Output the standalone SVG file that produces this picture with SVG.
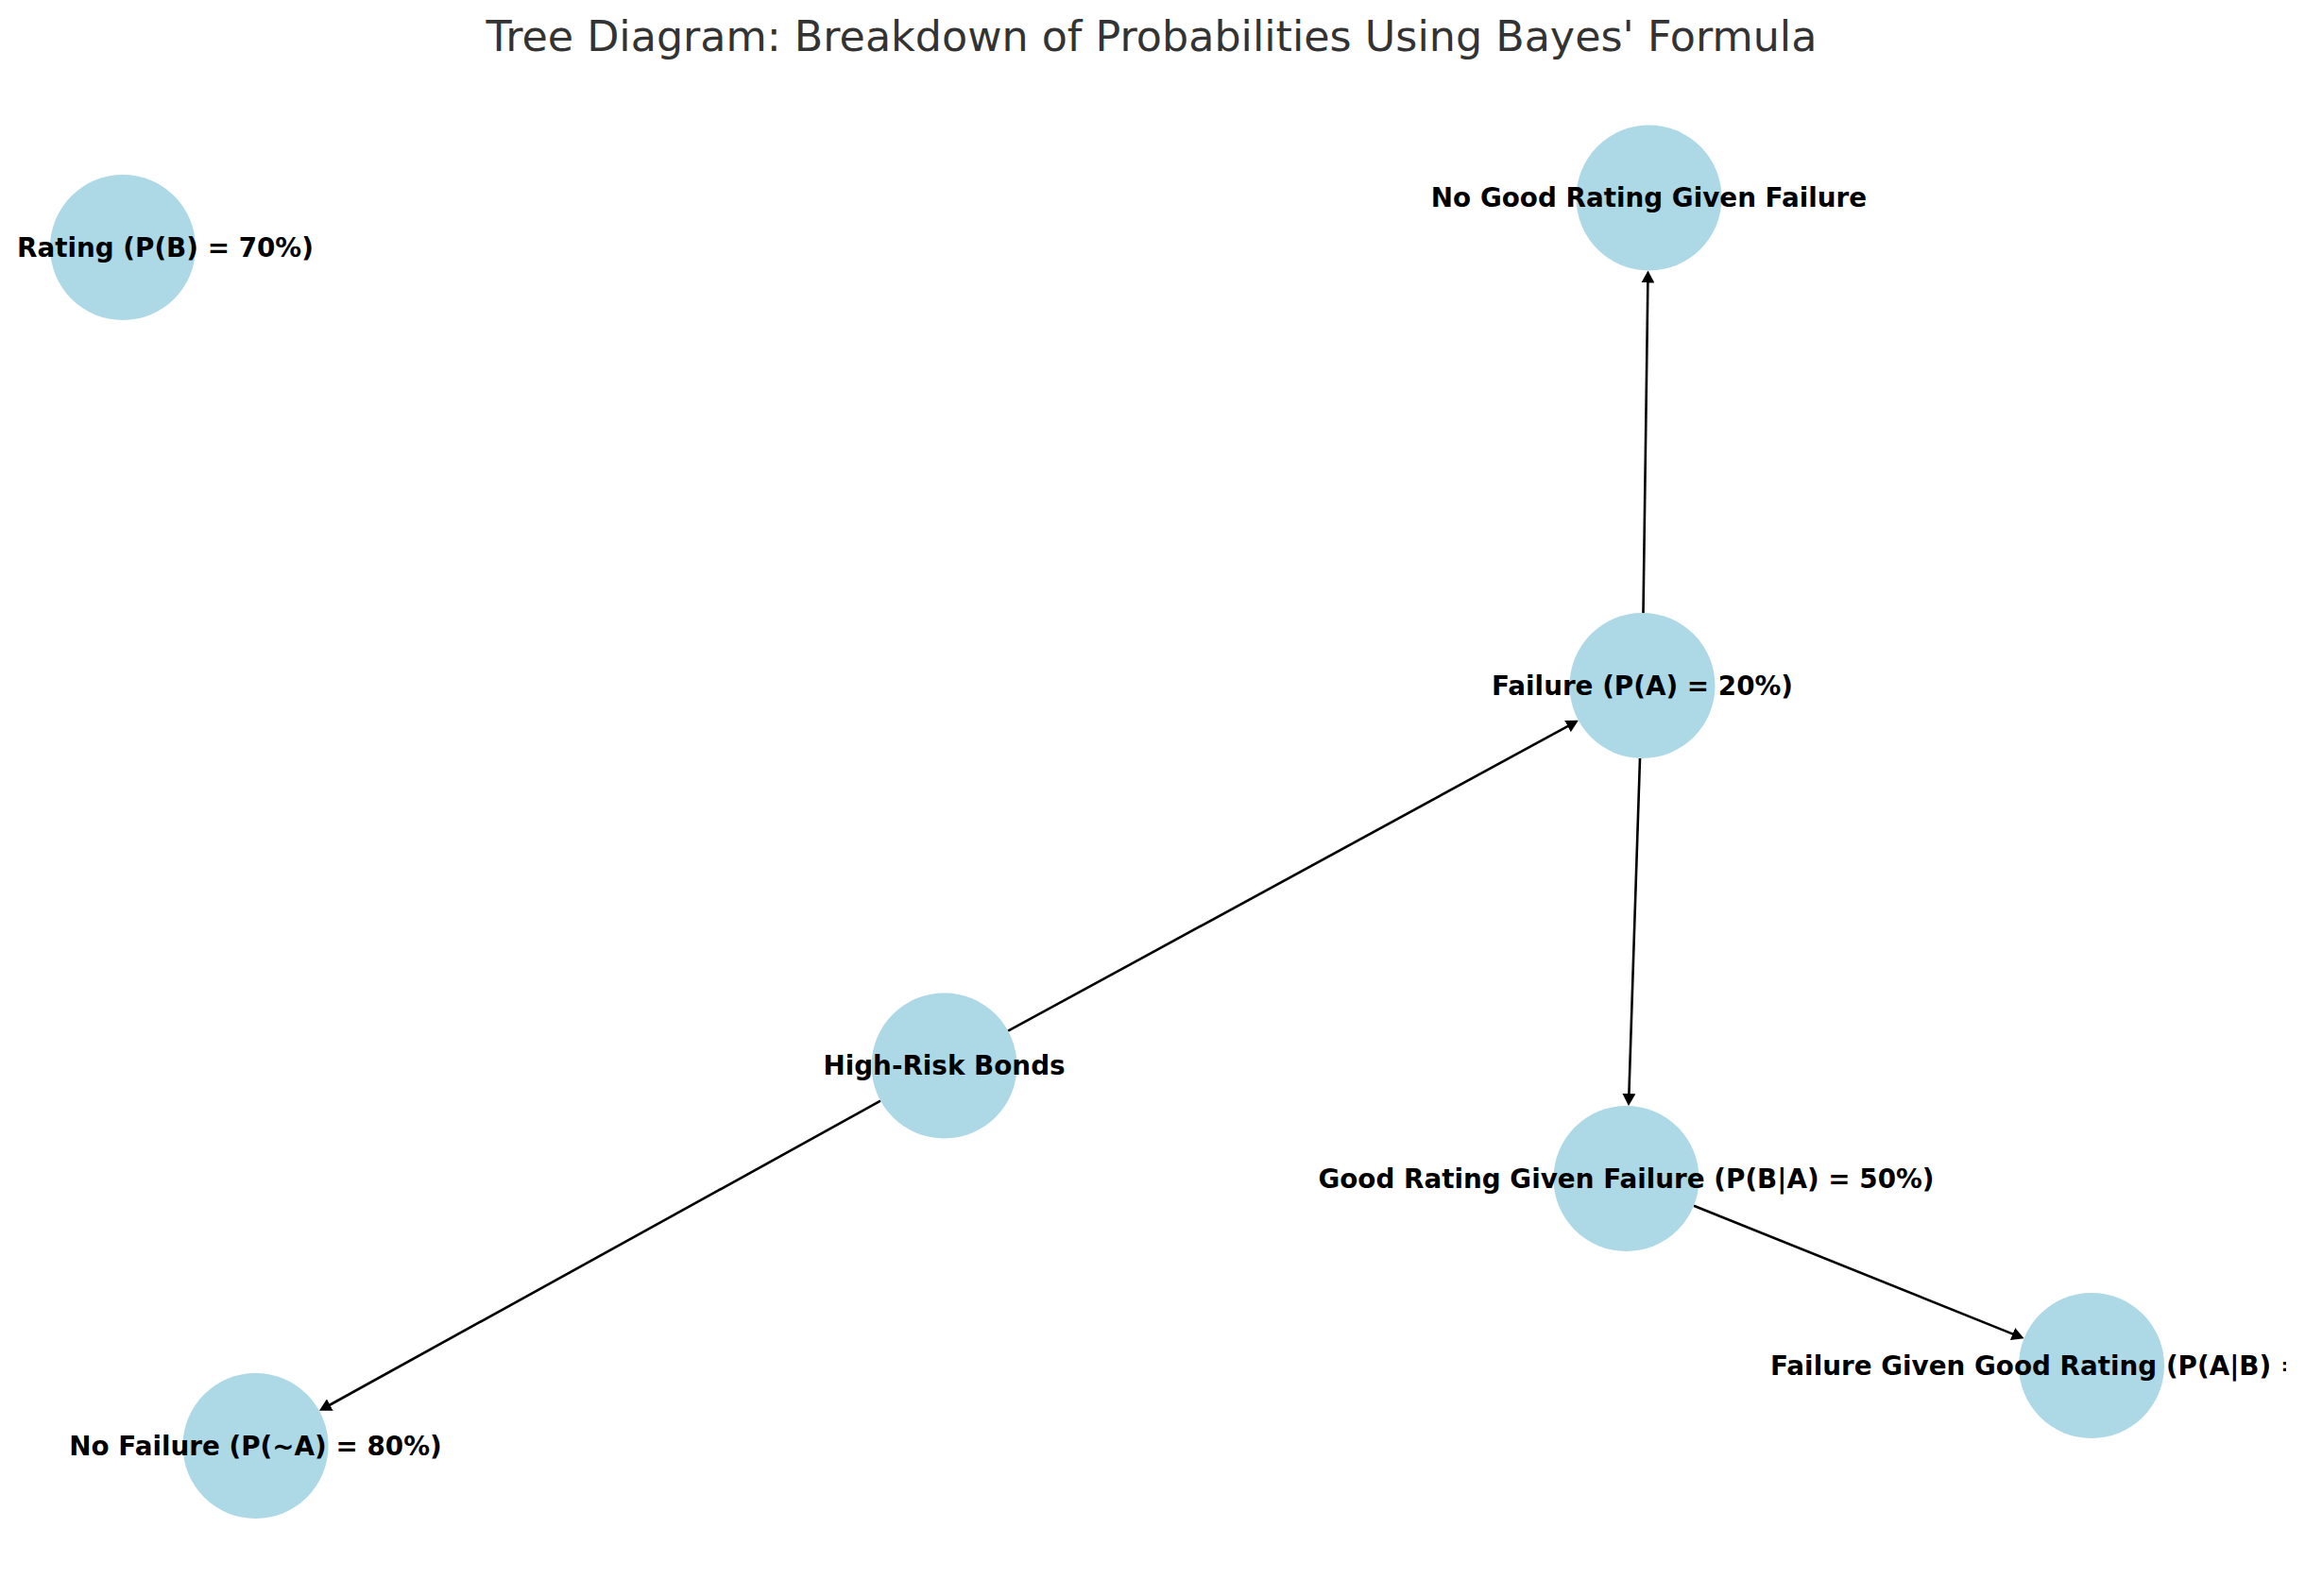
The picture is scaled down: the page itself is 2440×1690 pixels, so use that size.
<svg xmlns="http://www.w3.org/2000/svg" width="2440" height="1690" viewBox="0 0 2440 1690">
<style>
.node circle{fill:#ADD8E6}
.node text{font-family:"DejaVu Sans",sans-serif;font-weight:bold;font-size:27.8px;fill:#000;text-anchor:middle}
.edges line{stroke:#000;stroke-width:2.6;fill:none}
.title{font-family:"DejaVu Sans",sans-serif;font-size:44.4px;fill:#333333;text-anchor:middle}
</style>
<defs>
<marker id="arr" markerUnits="userSpaceOnUse" markerWidth="14" markerHeight="14" refX="3" refY="7" orient="auto">
<path d="M0,0 L13,7 L0,14 z" fill="#000"/>
</marker>
<clipPath id="edgeclip"><rect x="0" y="0" width="2420" height="1690"/></clipPath>
</defs>
<rect width="2440" height="1690" fill="#fff"/>
<text class="title" x="1219" y="54">Tree Diagram: Breakdown of Probabilities Using Bayes' Formula</text>
<g class="edges" id="edges">
<line x1="1067.1" y1="1091.7" x2="1662.1" y2="767.6" marker-end="url(#arr)"/>
<line x1="932.1" y1="1165.7" x2="346.7" y2="1489.0" marker-end="url(#arr)"/>
<line x1="1739.5" y1="649.0" x2="1744.4" y2="296.5" marker-end="url(#arr)"/>
<line x1="1736.0" y1="803.0" x2="1724.3" y2="1161.0" marker-end="url(#arr)"/>
<line x1="1793.0" y1="1276.7" x2="2133.3" y2="1413.6" marker-end="url(#arr)"/>
</g>
<g class="node" id="node-good-rating">
<circle cx="130" cy="262" r="77"/>
<text x="18" y="272" style="text-anchor:start">Rating (P(B) = 70%)</text>
</g>
<g class="node" id="node-no-good-rating-given-failure">
<circle cx="1745.5" cy="209.5" r="77"/>
<text x="1745.5" y="219">No Good Rating Given Failure</text>
</g>
<g class="node" id="node-failure">
<circle cx="1738.5" cy="726" r="77"/>
<text x="1738.5" y="735.5">Failure (P(A) = 20%)</text>
</g>
<g class="node" id="node-high-risk">
<circle cx="999.5" cy="1128.5" r="77"/>
<text x="999.5" y="1138">High-Risk Bonds</text>
</g>
<g class="node" id="node-good-rating-given-failure">
<circle cx="1721.5" cy="1248" r="77"/>
<text x="1721.5" y="1257.5">Good Rating Given Failure (P(B|A) = 50%)</text>
</g>
<g class="node" id="node-failure-given-good-rating">
<circle cx="2214" cy="1446" r="77"/>
<text x="1874" y="1455.5" style="text-anchor:start" clip-path="url(#edgeclip)">Failure Given Good Rating (P(A|B) =</text>
</g>
<g class="node" id="node-no-failure">
<circle cx="270.5" cy="1531" r="77"/>
<text x="270.5" y="1540.5">No Failure (P(~A) = 80%)</text>
</g>
</svg>
